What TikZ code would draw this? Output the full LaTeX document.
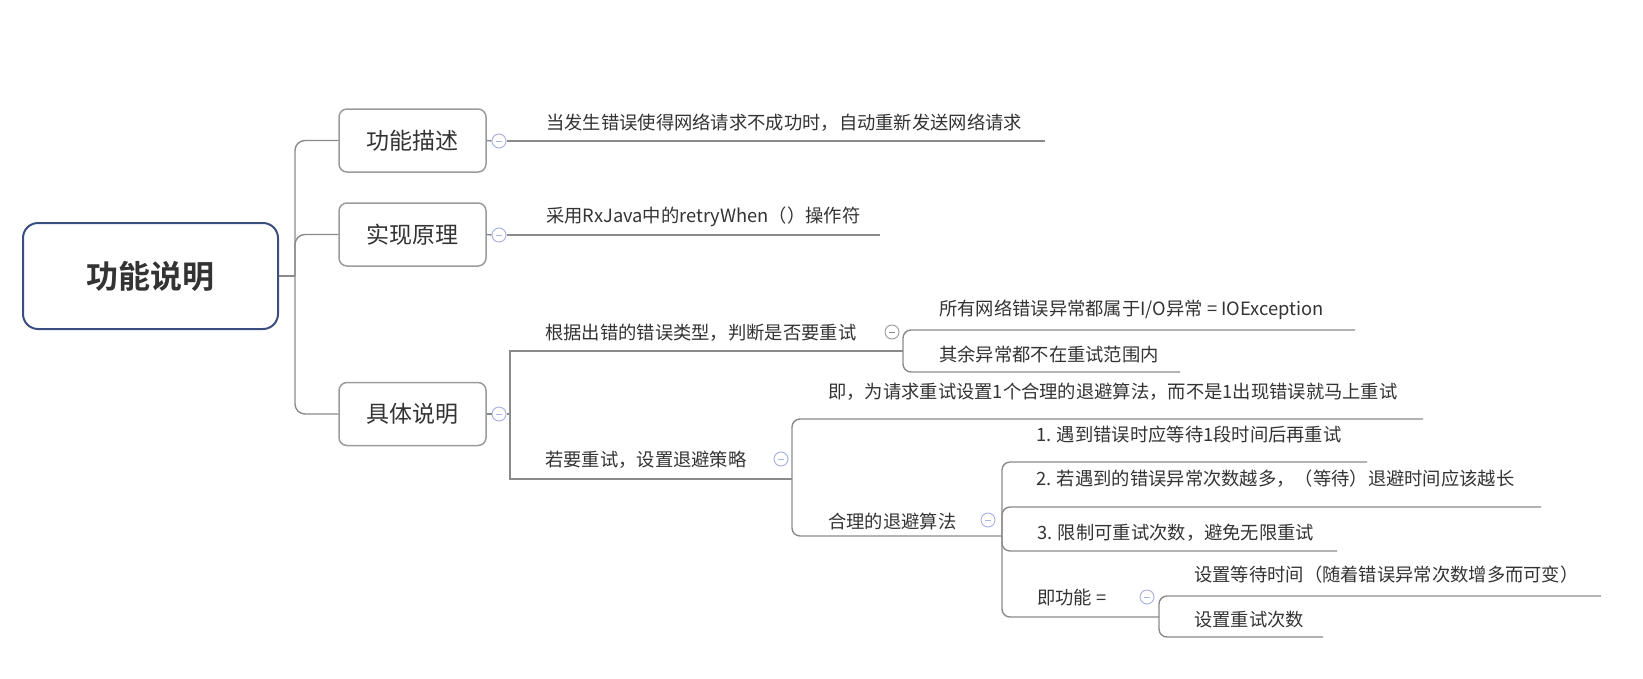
\documentclass[tikz,border=0pt]{standalone}
\usepackage{fontspec}
\setmainfont{Noto Sans CJK SC}[BoldFont={Noto Sans CJK SC Bold}]
\definecolor{linegray}{HTML}{8A8A8A}
\definecolor{boxgray}{HTML}{9B9B9B}
\definecolor{rootblue}{HTML}{3A4F80}
\definecolor{lav}{HTML}{AAB4E6}
\definecolor{txt}{HTML}{333333}
\begin{document}
\begin{tikzpicture}[x=10pt,y=10pt]
            \tikzstyle{every node}+=[inner sep=0pt]
            \tikzstyle{line}=[draw=linegray, line width=1.4pt]
            \tikzstyle{curved}=[line, rounded corners=8pt]
            \tikzstyle{topic}=[anchor=west, text=txt, font=\fontsize{18.3}{22}\selectfont]
            \tikzstyle{mainbox}=[draw=boxgray, line width=1.5pt, rounded corners=8pt, minimum width=147pt, minimum height=63pt, text=txt, font=\fontsize{23}{28}\selectfont]
            \tikzstyle{fold}=[circle, draw=lav, fill=white, line width=1pt, minimum size=14pt,
                path picture={\draw[lav, line width=1pt] ([xshift=-3pt]path picture bounding box.center) -- ([xshift=3pt]path picture bounding box.center);}]
            \tikzstyle{foldgray}=[fold, draw=linegray!80,
                path picture={\draw[linegray, line width=1pt] ([xshift=-3pt]path picture bounding box.center) -- ([xshift=3pt]path picture bounding box.center);}]
            \useasboundingbox (0,0) rectangle (164.3,-67.8);
            \node [draw=rootblue, line width=2pt, rounded corners=15pt, minimum width=255pt, minimum height=106pt, text=txt, font=\fontsize{32}{38}\selectfont\bfseries] (root) at (15.05,-27.6) {功能说明};
            \node [mainbox] (desc) at (41.25,-14.05) {功能描述};
            \node [mainbox] (impl) at (41.25,-23.45) {实现原理};
            \node [mainbox] (detail) at (41.25,-41.4) {具体说明};
            \coordinate (trunk) at (29.5,-27.6);
            \draw [line] (root.east) -- (trunk);
            \draw [line, rounded corners=10pt] (trunk) |- (desc.west);
            \draw [line, rounded corners=10pt] (trunk) |- (impl.west);
            \draw [line, rounded corners=10pt] (trunk) |- (detail.west);
            \node [topic] (autoretry) at (54.6,-12.3) {当发生错误使得网络请求不成功时，自动重新发送网络请求};
            \node [topic] (rxjava) at (54.6,-21.7) {采用RxJava中的retryWhen（）操作符};
            \node [topic] (judge) at (54.5,-33.3) {根据出错的错误类型，判断是否要重试};
            \node [topic] (ioex) at (93.9,-31.0) {所有网络错误异常都属于I/O异常 = IOException};
            \node [topic] (others) at (93.9,-35.4) {其余异常都不在重试范围内};
            \node [topic] (backoff) at (54.5,-46.0) {若要重试，设置退避策略};
            \node [topic] (meaning) at (82.8,-39.2) {即，为请求重试设置1个合理的退避算法，而不是1出现错误就马上重试};
            \node [topic] (algo) at (82.8,-52.1) {合理的退避算法};
            \node [topic] (waitfirst) at (103.6,-43.5) {1. 遇到错误时应等待1段时间后再重试};
            \node [topic] (longer) at (103.6,-47.9) {2. 若遇到的错误异常次数越多，（等待）退避时间应该越长};
            \node [topic] (limit) at (103.7,-53.3) {3. 限制可重试次数，避免无限重试};
            \node [topic] (func) at (103.7,-59.8) {即功能 =};
            \node [topic] (waittime) at (119.4,-57.5) {设置等待时间（随着错误异常次数增多而可变）};
            \node [topic] (retries) at (119.4,-62.0) {设置重试次数};
            \node [fold] (descfold) at (49.9,-14.1) {};
            \node [fold] (implfold) at (49.9,-23.5) {};
            \node [fold] (detailfold) at (49.9,-41.4) {};
            \coordinate (descend) at (104.5,-14.1);
            \coordinate (implend) at (88.0,-23.5);
            \coordinate (detailjoin) at (51.0,-41.4);
            \coordinate (judgejoin) at (90.3,-35.1);
            \coordinate (ioexend) at (135.5,-33.0);
            \coordinate (othersend) at (118.0,-37.2);
            \coordinate (backoffjoin) at (79.2,-47.9);
            \coordinate (meaningend) at (142.3,-41.9);
            \coordinate (algojoin) at (100.2,-53.6);
            \coordinate (waitfirstend) at (136.7,-46.2);
            \coordinate (longerend) at (154.1,-50.7);
            \coordinate (limitend) at (133.7,-55.1);
            \coordinate (funcjoin) at (115.9,-61.7);
            \coordinate (waittimeend) at (160.1,-59.6);
            \coordinate (retriesend) at (132.3,-63.7);
            \draw [line] (desc.east) -- (descfold.west);
            \draw [line] (descfold.east) -- (descend);
            \draw [line] (impl.east) -- (implfold.west);
            \draw [line] (implfold.east) -- (implend);
            \draw [line] (detail.east) -- (detailfold.west);
            \draw [line] (detailfold.east) -- (detailjoin);
            \draw [line] (detailjoin) |- (judgejoin);
            \draw [line] (detailjoin) |- (backoffjoin);
            \draw [curved] (judgejoin) |- (ioexend);
            \draw [curved] (judgejoin) |- (othersend);
            \draw [curved] (backoffjoin) |- (meaningend);
            \draw [curved] (backoffjoin) |- (algojoin);
            \draw [curved] (algojoin) |- (waitfirstend);
            \draw [curved] (algojoin) |- (longerend);
            \draw [curved] (algojoin) |- (limitend);
            \draw [curved] (algojoin) |- (funcjoin);
            \draw [curved] (funcjoin) |- (waittimeend);
            \draw [curved] (funcjoin) |- (retriesend);
            \node [foldgray] (judgefold) at (89.2,-33.2) {};
            \node [fold] (backofffold) at (78.1,-45.9) {};
            \node [fold] (algofold) at (98.8,-52.0) {};
            \node [fold] (funcfold) at (114.7,-59.7) {};
        \end{tikzpicture}
\end{document}
